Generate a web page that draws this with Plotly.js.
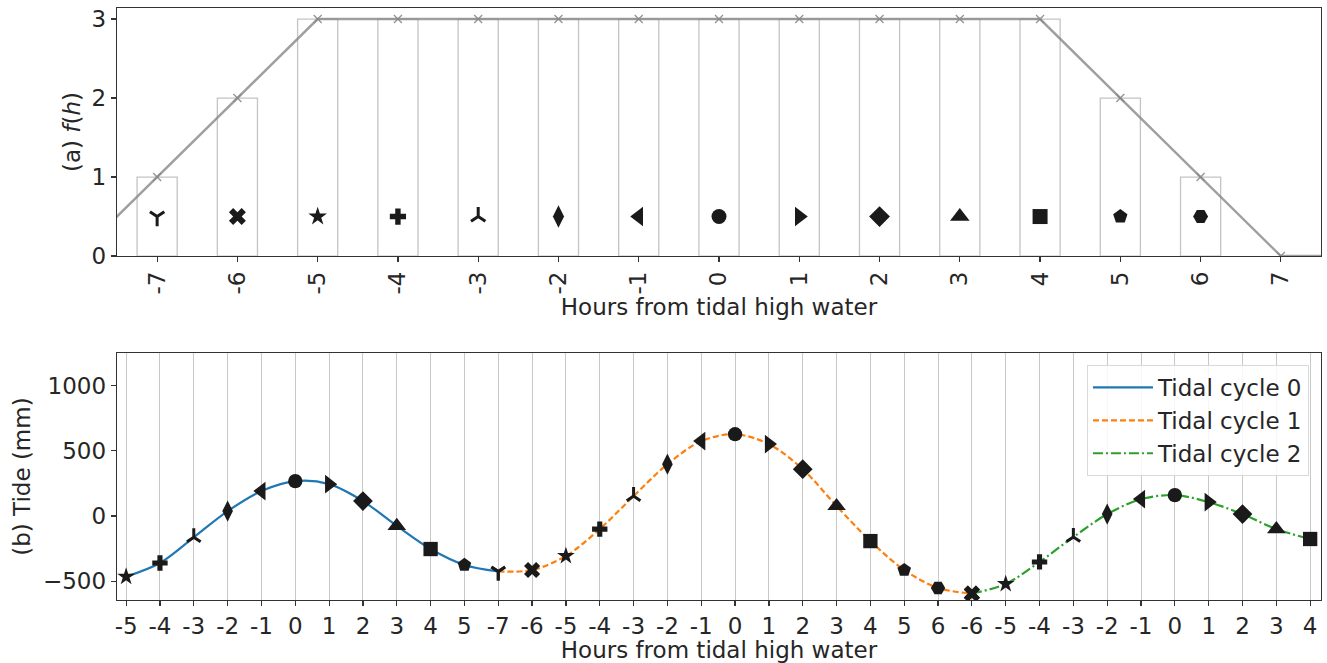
<!DOCTYPE html>
<html>
<head>
<meta charset="utf-8">
<script src="https://cdn.plot.ly/plotly-3.0.1.min.js"></script>
<style>html,body{margin:0;padding:0;background:#fff;}#chart{width:1327px;height:663px;}</style>
</head>
<body>
<div id="chart"></div>
<script>
// ---- Panel (a): weighting function f(h) ----
var fHours = [-8, -7, -6, -5, -4, -3, -2, -1, 0, 1, 2, 3, 4, 5, 6, 7, 8];
var fValues = [0, 1, 2, 3, 3, 3, 3, 3, 3, 3, 3, 3, 3, 2, 1, 0, 0];

var barHours = [-7, -6, -5, -4, -3, -2, -1, 0, 1, 2, 3, 4, 5, 6];
var barHeights = [1, 2, 3, 3, 3, 3, 3, 3, 3, 3, 3, 3, 2, 1];
var hourSymbols = ['y-down', 'x', 'star', 'cross', 'y-up', 'diamond-tall', 'triangle-left',
                   'circle', 'triangle-right', 'diamond', 'triangle-up', 'square', 'pentagon', 'hexagon2'];
var markerLevel = [0.5, 0.5, 0.5, 0.5, 0.5, 0.5, 0.5, 0.5, 0.5, 0.5, 0.5, 0.5, 0.5, 0.5];
var topTickVals = [-7, -6, -5, -4, -3, -2, -1, 0, 1, 2, 3, 4, 5, 6, 7];
var topTickText = ['-7', '-6', '-5', '-4', '-3', '-2', '-1', '0', '1', '2', '3', '4', '5', '6', '7'];

// ---- Panel (b): tide per tidal cycle ----
var tickLabels = ['-5','-4','-3','-2','-1','0','1','2','3','4','5',
                  '-7','-6','-5','-4','-3','-2','-1','0','1','2','3','4','5','6',
                  '-6','-5','-4','-3','-2','-1','0','1','2','3','4'];
var cycle0Index = [0,1,2,3,4,5,6,7,8,9,10,11];
var cycle0Tide = [-465, -360, -163, 38, 192, 268, 245, 115, -75, -253, -375, -425];
var cycle1Index = [11,12,13,14,15,16,17,18,19,20,21,22,23,24,25];
var cycle1Tide = [-425, -414, -306, -100, 153, 398, 575, 628, 552, 360, 77, -192, -414, -552, -595];
var cycle2Index = [25,26,27,28,29,30,31,32,33,34,35];
var cycle2Tide = [-595, -521, -352, -161, 15, 130, 161, 107, 15, -100, -176];

var FONT = 'DejaVu Sans, sans-serif';
var FS = 23;
var TXT = '#262626';
var MK = '#1a1a1a';

// per-symbol marker size (px) to mimic matplotlib marker footprints
var symSize = {
  'y-down': 12, 'y-up': 12, 'x': 15, 'star': 14, 'cross': 13.5, 'diamond-tall': 16,
  'triangle-left': 17, 'triangle-right': 17, 'triangle-up': 17, 'circle': 15,
  'diamond': 16, 'square': 15, 'pentagon': 15, 'hexagon2': 15
};
function symFor(h) { return hourSymbols[barHours.indexOf(h)]; }
function lineW(s) { return (s === 'y-down' || s === 'y-up') ? 3 : 0; }
function sizeOf(s, k) { return Math.round(symSize[s] * k * 10) / 10; }

var traces = [];
// bars (outline only)
traces.push({
  type: 'bar', x: barHours, y: barHeights, width: 0.5,
  marker: {color: 'rgba(255,255,255,0)', line: {color: '#c4c4c4', width: 1.3}},
  xaxis: 'x', yaxis: 'y', showlegend: false, hoverinfo: 'skip'
});
// f(h) line
traces.push({
  type: 'scatter', mode: 'lines+markers', x: fHours, y: fValues,
  line: {color: 'rgba(135,135,135,0.8)', width: 2.4},
  marker: {symbol: 'x-thin', size: 8, opacity: 1, line: {color: 'rgba(135,135,135,0.9)', width: 1.3}},
  xaxis: 'x', yaxis: 'y', showlegend: false, hoverinfo: 'skip'
});
// symbol markers for each hour
traces.push({
  type: 'scatter', mode: 'markers', x: barHours, y: markerLevel,
  marker: {symbol: hourSymbols, size: hourSymbols.map(function (s) { return sizeOf(s, 1); }),
           color: MK, opacity: 1, line: {color: MK, width: hourSymbols.map(lineW)}},
  xaxis: 'x', yaxis: 'y', showlegend: false, hoverinfo: 'skip'
});

// tide lines
var cycles = [
  {name: 'Tidal cycle 0', x: cycle0Index, y: cycle0Tide, color: '#1f77b4', dash: 'solid'},
  {name: 'Tidal cycle 1', x: cycle1Index, y: cycle1Tide, color: '#ff7f0e', dash: '6px,3px'},
  {name: 'Tidal cycle 2', x: cycle2Index, y: cycle2Tide, color: '#2ca02c', dash: '10px,3px,2px,3px'}
];
cycles.forEach(function (c) {
  traces.push({
    type: 'scatter', mode: 'lines', name: c.name, x: c.x, y: c.y,
    line: {color: c.color, width: 2.2, dash: c.dash, shape: 'spline', smoothing: 0.9},
    xaxis: 'x2', yaxis: 'y2', hoverinfo: 'skip'
  });
});
// tide markers
cycles.forEach(function (c) {
  var syms = c.x.map(function (i) { return symFor(parseInt(tickLabels[i], 10)); });
  traces.push({
    type: 'scatter', mode: 'markers', x: c.x, y: c.y,
    marker: {symbol: syms, size: syms.map(function (s) { return sizeOf(s, 0.95); }),
             color: MK, opacity: 1, line: {color: MK, width: syms.map(lineW)}},
    xaxis: 'x2', yaxis: 'y2', showlegend: false, hoverinfo: 'skip'
  });
});

var tickIdx = tickLabels.map(function (_, i) { return i; });

var axCommon = {
  showline: true, linecolor: '#333', linewidth: 1.3, mirror: true,
  ticks: 'outside', ticklen: 5, tickwidth: 1.2, tickcolor: '#333',
  tickfont: {family: FONT, size: FS, color: TXT}, zeroline: false, automargin: false
};
var titleFont = {family: FONT, size: FS, color: TXT};

var layout = {
  width: 1327, height: 663,
  margin: {l: 117, r: 6, t: 8, b: 63},
  paper_bgcolor: '#fff', plot_bgcolor: '#fff',
  font: {family: FONT, color: TXT},
  barmode: 'overlay',
  xaxis: Object.assign({}, axCommon, {
    domain: [0, 1], anchor: 'y', range: [-7.5, 7.5], tickmode: 'array',
    tickvals: topTickVals, ticktext: topTickText, tickangle: -90, showgrid: false,
    title: {text: 'Hours from tidal high water', font: titleFont, standoff: 0}
  }),
  yaxis: Object.assign({}, axCommon, {
    domain: [0.581, 1], anchor: 'x', range: [0, 3.14], tickvals: [0, 1, 2, 3], showgrid: false,
    title: {text: '(a) <i>f</i>(<i>h</i>)', font: titleFont, standoff: 4}
  }),
  xaxis2: Object.assign({}, axCommon, {
    domain: [0, 1], anchor: 'y2', range: [-0.27, 35.32], tickmode: 'array',
    tickvals: tickIdx, ticktext: tickLabels, tickangle: 0,
    showgrid: true, gridcolor: '#c8c8c8', gridwidth: 1,
    title: {text: 'Hours from tidal high water', font: titleFont, standoff: 5}
  }),
  yaxis2: Object.assign({}, axCommon, {
    domain: [0, 0.417], anchor: 'x2', range: [-644, 1250], tickvals: [-500, 0, 500, 1000], showgrid: false,
    title: {text: '(b) Tide (mm)', font: titleFont, standoff: 6}
  }),
  showlegend: true,
  legend: {
    x: 0.99, y: 0.397, xanchor: 'right', yanchor: 'top', xref: 'paper', yref: 'paper',
    bgcolor: 'rgba(255,255,255,0.85)', bordercolor: '#d9d9d9', borderwidth: 1,
    font: {family: FONT, size: FS, color: TXT}, tracegroupgap: 0, itemwidth: 60
  }
};

Plotly.newPlot('chart', traces, layout, {displayModeBar: false, staticPlot: true});
</script>
</body>
</html>
